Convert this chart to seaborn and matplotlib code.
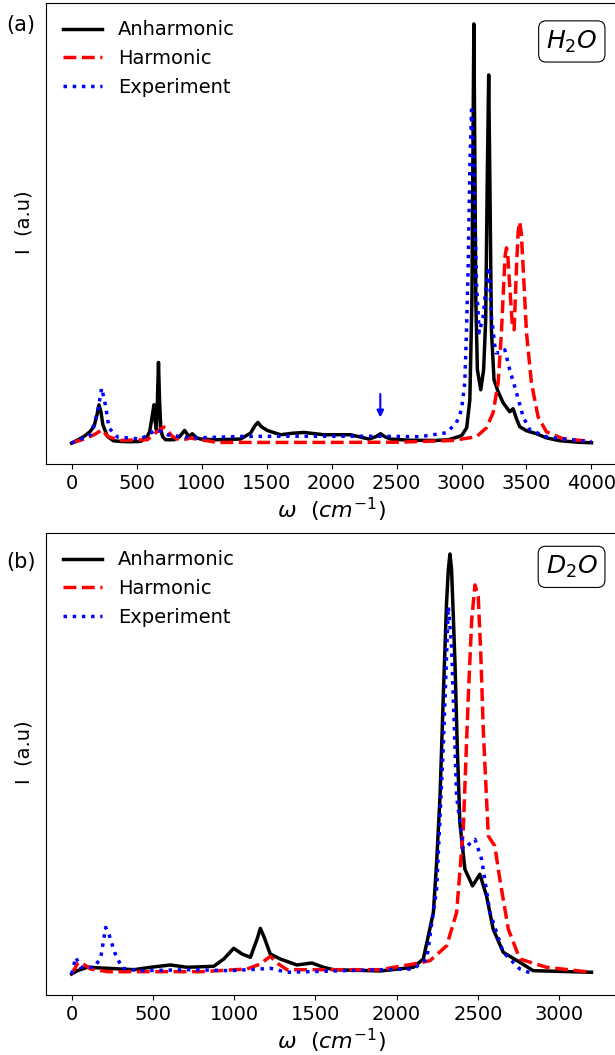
import numpy as np
import pandas as pd
import matplotlib
matplotlib.use("Agg")
import matplotlib.pyplot as plt
import seaborn as sns

# ---------------- Panel (a): H2O ----------------
h2o_anh_w = [0, 50, 95, 140, 172, 195, 210, 225, 240, 275, 320, 377, 450, 531, 580, 600, 625, 633, 643, 652,
             660, 668, 676, 686, 700, 723, 787, 830, 869, 902, 928, 960, 992, 1100, 1300, 1377, 1410, 1433,
             1460, 1505, 1608, 1700, 1787, 1941, 2146, 2287, 2340, 2377, 2410, 2454, 2600, 2800, 2900, 2950,
             3000, 3040, 3064, 3080, 3088, 3095, 3102, 3110, 3122, 3148, 3170, 3186, 3198, 3209, 3218, 3230,
             3250, 3282, 3320, 3371, 3397, 3420, 3448, 3500, 3577, 3650, 3756, 3900, 4000]
h2o_anh_I = [0.002, 0.035, 0.068, 0.115, 0.168, 0.285, 0.385, 0.315, 0.185, 0.068, 0.025, 0.018, 0.015, 0.018,
             0.065, 0.115, 0.315, 0.385, 0.215, 0.135, 0.435, 0.808, 0.435, 0.135, 0.065, 0.035, 0.035, 0.065,
             0.128, 0.068, 0.095, 0.055, 0.042, 0.035, 0.042, 0.102, 0.175, 0.208, 0.165, 0.128, 0.085, 0.100,
             0.108, 0.085, 0.085, 0.042, 0.065, 0.095, 0.065, 0.042, 0.030, 0.028, 0.035, 0.055, 0.075, 0.155,
             0.435, 1.435, 2.935, 4.195, 2.935, 1.435, 0.735, 0.535, 0.735, 1.235, 2.635, 3.685, 2.635, 1.135,
             0.635, 0.515, 0.405, 0.315, 0.345, 0.255, 0.165, 0.125, 0.095, 0.055, 0.025, 0.010, 0.005]

h2o_har_w = [0, 95, 172, 236, 275, 377, 582, 659, 710, 775, 838, 915, 992, 1121, 1500, 2000, 2500, 2700, 2935,
             3115, 3192, 3243, 3282, 3307, 3325, 3336, 3346, 3356, 3366, 3392, 3405, 3423, 3436, 3448, 3460,
             3474, 3500, 3538, 3589, 3653, 3781, 4000]
h2o_har_I = [0.002, 0.042, 0.085, 0.135, 0.068, 0.028, 0.035, 0.118, 0.162, 0.068, 0.028, 0.052, 0.035, 0.008,
             0.008, 0.008, 0.010, 0.018, 0.028, 0.065, 0.155, 0.305, 0.605, 1.105, 1.605, 1.880, 1.955, 1.880,
             1.665, 1.165, 1.135, 1.765, 2.120, 2.215, 2.100, 1.765, 1.105, 0.605, 0.265, 0.115, 0.045, 0.018]

h2o_exp_w = [0, 60, 146, 198, 231, 262, 287, 352, 531, 608, 659, 736, 915, 1300, 1600, 2000, 2400, 2679, 2884,
             2961, 3000, 3025, 3038, 3051, 3064, 3077, 3095, 3115, 3136, 3166, 3192, 3212, 3230, 3263, 3307,
             3333, 3371, 3423, 3474, 3525, 3653, 3833, 4000]
h2o_exp_I = [0.002, 0.035, 0.085, 0.305, 0.552, 0.368, 0.152, 0.062, 0.042, 0.102, 0.135, 0.085, 0.052, 0.068,
             0.070, 0.070, 0.070, 0.065, 0.105, 0.205, 0.335, 0.605, 1.105, 1.765, 2.765, 3.335, 2.765, 1.605,
             1.105, 1.265, 1.605, 1.765, 1.265, 0.905, 0.905, 0.935, 0.735, 0.505, 0.265, 0.135, 0.065, 0.035,
             0.015]

# ---------------- Panel (b): D2O ----------------
d2o_anh_w = [0, 35, 96, 219, 383, 485, 608, 711, 874, 936, 997, 1049, 1100, 1141, 1161, 1185, 1222, 1284, 1386,
             1478, 1550, 1611, 1900, 2103, 2164, 2226, 2246, 2267, 2287, 2307, 2318, 2328, 2338, 2348, 2359,
             2373, 2389, 2420, 2467, 2512, 2553, 2594, 2656, 2758, 2840, 3199]
d2o_anh_I = [0.0, 0.033, 0.067, 0.057, 0.043, 0.067, 0.090, 0.067, 0.077, 0.150, 0.257, 0.200, 0.167, 0.350,
             0.457, 0.367, 0.200, 0.150, 0.090, 0.110, 0.067, 0.043, 0.030, 0.067, 0.150, 0.617, 1.117, 1.783,
             2.783, 3.717, 4.050, 4.210, 4.050, 3.617, 3.117, 2.283, 1.517, 1.050, 0.883, 1.000, 0.783, 0.450,
             0.217, 0.117, 0.033, 0.017]

d2o_har_w = [0, 35, 55, 117, 219, 800, 1079, 1161, 1222, 1273, 1325, 1898, 2103, 2205, 2308, 2369, 2410, 2441,
             2462, 2482, 2502, 2518, 2533, 2564, 2604, 2635, 2687, 2758, 2922, 3199]
d2o_har_I = [0.0, 0.100, 0.117, 0.050, 0.023, 0.023, 0.050, 0.100, 0.177, 0.100, 0.043, 0.043, 0.100, 0.133,
             0.283, 0.617, 1.450, 2.783, 3.550, 3.900, 3.783, 3.200, 2.450, 1.383, 1.283, 0.950, 0.450, 0.150,
             0.067, 0.017]

d2o_exp_w = [0, 25, 55, 137, 178, 209, 229, 264, 311, 424, 731, 977, 1161, 1222, 1325, 1900, 2103, 2185, 2246,
             2287, 2318, 2338, 2369, 2410, 2482, 2523, 2574, 2656, 2758, 2840]
d2o_exp_I = [0.0, 0.167, 0.067, 0.067, 0.157, 0.467, 0.400, 0.217, 0.057, 0.033, 0.043, 0.033, 0.050, 0.057,
             0.017, 0.043, 0.050, 0.150, 0.850, 2.283, 3.683, 3.283, 1.783, 1.250, 1.350, 1.150, 0.617, 0.217,
             0.050, 0.000]

labels = ["Anharmonic", "Harmonic", "Experiment"]
xticks_a = [0, 500, 1000, 1500, 2000, 2500, 3000, 3500, 4000]
xticks_b = [0, 500, 1000, 1500, 2000, 2500, 3000]

fig = plt.figure(figsize=(6.15, 10.55), dpi=100)
ax_a = fig.add_axes([0.0743, 0.5602, 1.004 - 0.0743, 0.99716 - 0.5602])
ax_b = fig.add_axes([0.0743, 0.0569, 1.004 - 0.0743, 0.4948 - 0.0569])

styles = [dict(color="k", linestyle="-"), dict(color="r", linestyle="--"), dict(color="b", linestyle=":")]

def draw(ax, series, xticks, tag, mol, tagy, boxy):
    for (w, I), lab, st in zip(series, labels, styles):
        df = pd.DataFrame({"w": w, "I": I})
        sns.lineplot(data=df, x="w", y="I", ax=ax, label=lab, linewidth=2.5, sort=True,
                     color=st["color"], linestyle=st["linestyle"])
    ax.set_yticks([])
    ax.set_xticks(xticks)
    ax.tick_params(axis="x", labelsize=14)
    ax.set_xlabel(r"$\omega\ \ (cm^{-1})$", fontsize=16, labelpad=2)
    ax.set_ylabel("I  (a.u)", fontsize=14)
    ax.yaxis.set_label_coords(-0.022, 0.525)
    ax.legend(loc="upper left", frameon=False, fontsize=14, handlelength=2.0)
    ax.text(0.965, boxy, mol, transform=ax.transAxes, ha="right", va="top", fontsize=18,
            bbox=dict(boxstyle="round,pad=0.3", fc="white", ec="black", lw=0.8))
    fig.text(6 / 615, tagy, tag, fontsize=15, ha="left", va="center")

draw(ax_a, [(h2o_anh_w, h2o_anh_I), (h2o_har_w, h2o_har_I), (h2o_exp_w, h2o_exp_I)],
     xticks_a, "(a)", r"$H_2O$", 1 - 25 / 1055, 0.945)
draw(ax_b, [(d2o_anh_w, d2o_anh_I), (d2o_har_w, d2o_har_I), (d2o_exp_w, d2o_exp_I)],
     xticks_b, "(b)", r"$D_2O$", 1 - 562 / 1055, 0.955)

ax_a.annotate("", xy=(2375, 0.23), xytext=(2375, 0.52),
              arrowprops=dict(arrowstyle="-|>", color="b", lw=1.5, mutation_scale=10))

fig.savefig("out.png", dpi=100)
